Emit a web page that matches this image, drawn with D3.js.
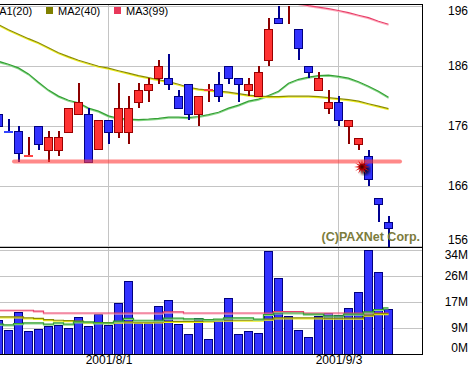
<!DOCTYPE html>
<html>
<head>
<meta charset="utf-8">
<script src="https://cdn.jsdelivr.net/npm/d3@7"></script>
<style>
  html, body { margin: 0; padding: 0; background: #fff; }
  svg { display: block; }
  text { font-family: "Liberation Sans", Arial, sans-serif; }
</style>
</head>
<body>
<div id="chart"></div>
<script>
// trading days shown (2001/7/16 .. 2001/9/10)
const dates = [
  "2001/7/16","2001/7/17","2001/7/18","2001/7/19","2001/7/23","2001/7/24","2001/7/25","2001/7/26",
  "2001/7/27","2001/7/30","2001/7/31","2001/8/1","2001/8/2","2001/8/3","2001/8/6","2001/8/7",
  "2001/8/8","2001/8/9","2001/8/10","2001/8/13","2001/8/14","2001/8/15","2001/8/16","2001/8/17",
  "2001/8/20","2001/8/21","2001/8/22","2001/8/23","2001/8/24","2001/8/27","2001/8/28","2001/8/29",
  "2001/8/30","2001/8/31","2001/9/3","2001/9/4","2001/9/5","2001/9/6","2001/9/7","2001/9/10"
];
const open  = [178.0,175.06,175.05,171.0,176.0,171.9,171.9,175.0,178.0,178.0,172.0,177.0,175.0,175.0,180.0,182.0,
               184.0,184.0,181.0,183.0,178.0,182.0,183.0,186.0,184.0,182.0,181.0,187.0,194.0,194.1,192.0,186.0,
               182.0,179.0,180.0,176.0,173.0,171.0,164.0,160.0];
const high  = [178.5,177.1,176.0,174.1,176.0,175.05,175.05,179.0,183.1,179.0,177.0,177.0,183.1,181.0,183.1,184.0,
               187.0,188.0,182.0,183.0,181.0,183.0,185.0,186.0,184.0,184.0,186.0,194.0,196.0,196.0,192.0,186.0,
               185.0,182.0,181.0,177.0,174.0,172.0,164.0,161.0];
const low   = [175.5,175.0,170.0,171.0,171.9,169.9,171.0,175.0,178.0,169.9,172.0,173.0,174.0,173.0,179.0,180.0,
               183.0,182.0,179.0,177.0,176.0,180.0,180.0,183.0,180.0,181.0,181.0,186.0,193.0,193.0,187.0,184.0,
               182.0,178.0,176.0,173.0,172.0,166.0,160.0,155.5];
const close = [176.0,175.0,171.5,171.05,173.0,174.05,174.05,179.0,180.0,169.9,177.0,175.0,179.0,179.0,182.0,183.0,
               186.0,183.0,179.0,178.0,181.0,182.02,181.0,184.0,183.0,183.0,185.0,192.0,193.0,194.12,189.0,185.0,
               184.0,180.0,177.0,177.0,174.0,167.0,163.0,159.0];
// volume, millions of shares
const volume = [11.0,7.7,13.7,7.4,8.0,9.0,9.4,8.4,12.0,9.0,13.0,9.4,16.6,23.9,10.0,10.0,
                15.7,17.6,9.7,6.4,11.7,4.7,11.0,18.3,6.4,7.4,6.7,33.8,24.9,12.3,7.7,5.4,
                12.3,13.3,12.7,15.0,20.3,34.3,26.9,14.6];

// price moving averages
const ma1 = [186.7,186.2,185.6,184.6,183.2,181.9,180.9,180.2,179.8,178.9,178.4,177.6,177.2,177.05,176.97,177.05,
             177.2,177.4,177.4,177.3,177.5,177.8,178.2,178.9,179.4,180.05,180.4,181.0,181.7,183.05,183.7,184.05,
             184.3,184.4,184.2,183.9,183.3,182.55,181.7,180.7];
const ma2 = [192.8,191.97,191.22,190.47,189.8,188.97,188.13,187.47,186.88,186.38,185.88,185.55,185.13,184.72,184.3,183.97,
             183.63,183.3,182.88,182.38,182.05,181.88,181.72,181.55,181.3,181.05,180.88,180.8,180.8,180.88,180.88,180.88,
             180.8,180.63,180.47,180.3,180.05,179.63,179.22,178.8];
const ma3 = [null,null,null,null,null,null,null,null,null,null,null,null,null,null,null,null,
             null,null,null,null,null,null,null,null,null,null,null,null,null,null,196.3,195.97,
             195.72,195.47,195.17,194.8,194.38,193.97,193.38,192.88];

// volume moving averages
const vma1 = [9.7,9.5,9.9,10.1,10.1,9.7,10.1,9.7,10.45,10.45,10.1,10.1,10.7,11.6,11.0,11.0,
              11.0,11.7,11.7,11.45,11.45,11.2,11.35,11.8,11.8,11.8,11.35,12.9,13.4,13.4,13.4,13.0,
              13.0,12.45,12.45,13.0,13.0,13.8,14.55,15.1];
const vma2 = [12.1,12.1,12.1,11.8,11.6,11.2,11.0,10.85,10.7,10.25,10.25,10.2,10.35,10.45,10.35,10.35,
              10.45,10.6,10.6,10.6,10.6,10.7,11.0,11.0,11.0,11.0,11.0,11.35,11.8,11.8,11.8,11.8,
              11.8,11.7,11.7,11.7,11.7,12.7,13.2,13.2];
const vma3 = [14.3,14.3,14.3,14.3,14.0,13.4,13.4,13.4,13.4,13.4,13.4,13.4,13.4,13.4,13.4,13.4,
              13.4,13.8,13.8,13.4,13.4,13.4,13.4,13.4,13.4,13.4,13.4,13.4,13.9,13.9,13.9,13.4,
              13.4,13.4,13.4,13.4,13.4,13.4,13.4,13.4];

const priceTicks = [156, 166, 176, 186, 196];
const volTicks = [0, 8.6, 17.2, 25.8, 34.4];
const volTickLabels = ["0M", "9M", "17M", "26M", "34M"];
const dateTicks = ["2001/8/1", "2001/9/3"];
const legendNames = ["MA1(20)", "MA2(40)", "MA3(99)"];
const supportLevel = 170;
const signalDate = "2001/9/6";
const signalPrice = 169.1;

const W = 476, H = 368;
const right = 422;
const price = { top: 4, bottom: 247 };
const vol = { top: 247, bottom: 354 };

const svg = d3.select("#chart").append("svg")
    .attr("width", W)
    .attr("height", H);

svg.append("rect").attr("width", W).attr("height", H).attr("fill", "#fff");

const defs = svg.append("defs");
defs.append("clipPath").attr("id", "clip-price")
  .append("rect").attr("x", 0).attr("y", price.top).attr("width", right).attr("height", price.bottom - price.top);
defs.append("clipPath").attr("id", "clip-vol")
  .append("rect").attr("x", 0).attr("y", vol.top + 1).attr("width", right).attr("height", vol.bottom - vol.top - 1);
defs.append("filter").attr("id", "blur")
  .append("feGaussianBlur").attr("stdDeviation", 1.6);
const grad = defs.append("radialGradient").attr("id", "burst");
grad.append("stop").attr("offset", "0%").attr("stop-color", "#300000");
grad.append("stop").attr("offset", "45%").attr("stop-color", "#cc0000");
grad.append("stop").attr("offset", "100%").attr("stop-color", "#ff3030");

const x = d3.scalePoint().domain(dates).range([-2, 388]);
const y = d3.scaleLinear().domain([156, 196]).range([245.5, 5.5]);
const yv = d3.scaleLinear().domain([0, 34.4]).range([353.5, 249.5]);

const candles = dates.map((d, i) => ({ d, o: open[i], h: high[i], l: low[i], c: close[i], v: volume[i] }));

// ── Grid ────────────────────────────────────────────────────────────
const grid = svg.append("g").attr("stroke", "#c4c4c4").attr("shape-rendering", "crispEdges");
grid.selectAll("line.hp").data(priceTicks).join("line")
    .attr("x1", 0).attr("x2", right)
    .attr("y1", d => Math.round(y(d)) + 0.5).attr("y2", d => Math.round(y(d)) + 0.5);
grid.selectAll("line.hv").data(volTicks.slice(1)).join("line")
    .attr("x1", 0).attr("x2", right)
    .attr("y1", d => Math.round(yv(d)) + 0.5).attr("y2", d => Math.round(yv(d)) + 0.5);
grid.selectAll("line.vx").data(dateTicks).join("line")
    .attr("x1", d => x(d) + 0.5).attr("x2", d => x(d) + 0.5)
    .attr("y1", price.top).attr("y2", vol.bottom);

// ── MA helper (two tone line) ───────────────────────────────────────
function drawMA(parent, values, scale, dark, light, curve) {
  const line = d3.line()
      .defined(v => v != null)
      .x((v, i) => x(dates[i]) + 0.5)
      .y(v => scale(v))
      .curve(curve);
  parent.append("path").attr("d", line(values)).attr("fill", "none")
      .attr("stroke", light).attr("stroke-width", 1.2).attr("transform", "translate(0,1)");
  parent.append("path").attr("d", line(values)).attr("fill", "none")
      .attr("stroke", dark).attr("stroke-width", 1.2);
}

// ── Price panel ─────────────────────────────────────────────────────
const pg = svg.append("g").attr("clip-path", "url(#clip-price)");
drawMA(pg, ma1, y, "#33a033", "#8ad88a", d3.curveLinear);
drawMA(pg, ma2, y, "#8c8c00", "#f0f020", d3.curveLinear);
drawMA(pg, ma3, y, "#e8406a", "#ffb0c0", d3.curveLinear);

const up = d => d.c >= d.o;
const cg = pg.append("g").attr("shape-rendering", "crispEdges");

cg.selectAll("rect.wick").data(candles).join("rect")
    .attr("x", d => x(d.d))
    .attr("width", 2)
    .attr("y", d => y(d.h))
    .attr("height", d => y(d.l) - y(d.h))
    .attr("fill", d => up(d) ? "#8c0000" : "#000090");

cg.selectAll("rect.body").data(candles).join("rect")
    .attr("x", d => x(d.d) - 3.5)
    .attr("width", 8)
    .attr("y", d => Math.round(y(Math.max(d.o, d.c))) + 0.5)
    .attr("height", d => Math.max(0, Math.round(y(Math.min(d.o, d.c))) - Math.round(y(Math.max(d.o, d.c)))))
    .attr("fill", d => up(d) ? "#ff3333" : "#3333ff")
    .attr("stroke", d => {
      const flat = Math.abs(y(d.o) - y(d.c)) < 1;
      if (flat) return up(d) ? "#ff4444" : "#3344ff";
      return up(d) ? "#990000" : "#000080";
    })
    .attr("stroke-width", 1);

// support line
pg.append("line")
    .attr("x1", x(dates[2]) - 4).attr("x2", 400)
    .attr("y1", y(supportLevel)).attr("y2", y(supportLevel))
    .attr("stroke", "#ff3a3a").attr("stroke-opacity", 0.6)
    .attr("stroke-width", 4).attr("stroke-linecap", "round");

// signal burst
const spikes = 12;
const starPts = d3.range(spikes * 2).map(k => [k * Math.PI / spikes, k % 2 ? 3 : 8]);
const star = d3.lineRadial().angle(d => d[0]).radius(d => d[1]).curve(d3.curveLinearClosed);
const sx = x(signalDate) - 6, sy = y(signalPrice);
pg.append("circle").attr("cx", sx + 3).attr("cy", sy + 3).attr("r", 5)
    .attr("fill", "#000").attr("opacity", 0.7).attr("filter", "url(#blur)");
pg.append("path").attr("d", star(starPts))
    .attr("transform", `translate(${sx},${sy})`)
    .attr("fill", "url(#burst)");

// watermark
svg.append("text")
    .attr("x", 420).attr("y", 241)
    .attr("text-anchor", "end")
    .attr("font-size", "12.5px").attr("font-weight", "bold")
    .attr("fill", "#7c7c3c")
    .text("(C)PAXNet Corp.");

// ── Volume panel ────────────────────────────────────────────────────
const vg = svg.append("g").attr("clip-path", "url(#clip-vol)");
vg.append("g").attr("shape-rendering", "crispEdges")
  .selectAll("rect").data(candles).join("rect")
    .attr("x", d => x(d.d) - 3.5)
    .attr("width", 8)
    .attr("y", d => Math.round(yv(d.v)) + 0.5)
    .attr("height", d => 354 - Math.round(yv(d.v)))
    .attr("fill", "#3333ff")
    .attr("stroke", "#000080");
drawMA(vg, vma3, yv, "#e8406a", "#ffb0c0", d3.curveStep);
drawMA(vg, vma2, yv, "#8c8c00", "#f0f020", d3.curveStep);
drawMA(vg, vma1, yv, "#33a033", "#8ad88a", d3.curveStep);

// ── Frame ───────────────────────────────────────────────────────────
const frame = svg.append("g").attr("stroke", "#000").attr("shape-rendering", "crispEdges");
frame.append("line").attr("x1", 0).attr("x2", right + 0.5).attr("y1", price.top + 0.5).attr("y2", price.top + 0.5);
frame.append("line").attr("x1", 0).attr("x2", right + 0.5).attr("y1", price.bottom + 0.5).attr("y2", price.bottom + 0.5);
frame.append("line").attr("x1", 0).attr("x2", right + 0.5).attr("y1", vol.bottom + 0.5).attr("y2", vol.bottom + 0.5);
frame.append("line").attr("x1", right + 0.5).attr("x2", right + 0.5).attr("y1", price.top).attr("y2", vol.bottom + 1);

// ── Legend ──────────────────────────────────────────────────────────
const legendColors = ["#33a033", "#808000", "#e8385a"];
const lg = svg.append("g").selectAll("g").data(legendNames).join("g")
    .attr("transform", (d, i) => `translate(${-22 + i * 68},0)`);
lg.append("rect").attr("x", 0).attr("y", 7).attr("width", 7).attr("height", 7)
    .attr("fill", (d, i) => legendColors[i]);
lg.append("text").attr("x", 12).attr("y", 14.5)
    .attr("font-size", "11px").attr("fill", "#000")
    .text(d => d);

// ── Axes ────────────────────────────────────────────────────────────
function clampTicks(g, top, bottom) {
  g.selectAll(".tick").attr("transform", function () {
    const t = d3.select(this).attr("transform");
    const ty = +t.match(/,\s*([-\d.]+)/)[1];
    return `translate(0,${Math.max(top + 7, Math.min(bottom - 6.5, ty))})`;
  });
}

const pAxis = svg.append("g")
    .attr("transform", `translate(${right},0)`)
    .call(d3.axisRight(y).tickValues(priceTicks).tickSize(0).tickFormat(d3.format("d")));
pAxis.select(".domain").remove();
pAxis.selectAll("text").attr("x", 46).attr("text-anchor", "end")
    .attr("font-size", "12px").attr("font-family", "'Liberation Sans', Arial, sans-serif").attr("fill", "#000");
clampTicks(pAxis, price.top, price.bottom);

const vAxis = svg.append("g")
    .attr("transform", `translate(${right},0)`)
    .call(d3.axisRight(yv).tickValues(volTicks).tickSize(0).tickFormat((d, i) => volTickLabels[i]));
vAxis.select(".domain").remove();
vAxis.selectAll("text").attr("x", 46).attr("text-anchor", "end")
    .attr("font-size", "12px").attr("font-family", "'Liberation Sans', Arial, sans-serif").attr("fill", "#000");
clampTicks(vAxis, vol.top + 1, vol.bottom + 0.5);

const xAxis = svg.append("g")
    .attr("transform", `translate(0.5,${vol.bottom})`)
    .call(d3.axisBottom(x).tickValues(dateTicks).tickSize(0).tickPadding(1));
xAxis.select(".domain").remove();
xAxis.selectAll("text").attr("font-size", "12px")
    .attr("font-family", "'Liberation Sans', Arial, sans-serif").attr("fill", "#000");
</script>
</body>
</html>
